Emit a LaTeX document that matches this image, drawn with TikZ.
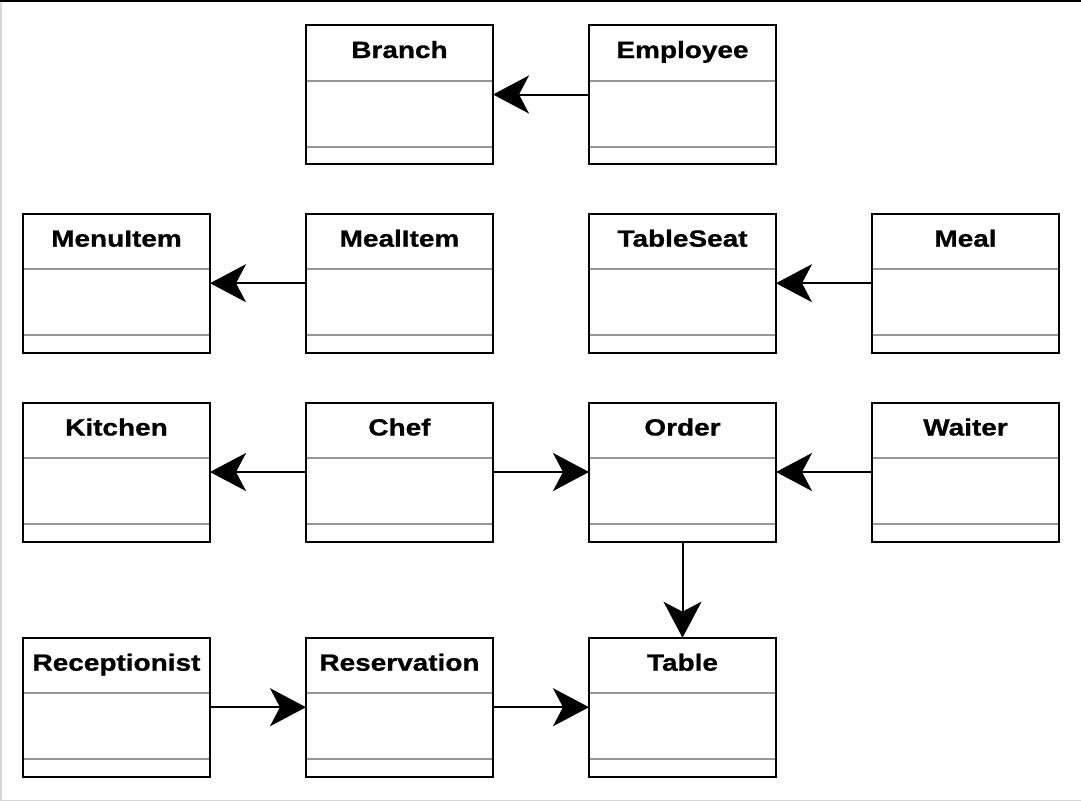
\documentclass[tikz,border=0pt]{standalone}
\usepackage{fontspec}
\setmainfont{Liberation Sans}[BoldFeatures={FakeBold=0.8}]
\usetikzlibrary{arrows.meta}
\definecolor{divgray}{RGB}{150,150,150}
\definecolor{framegray}{RGB}{215,215,215}
\tikzset{
  cls/.style={draw=black, line width=2pt, minimum width=187pt, minimum height=139pt, inner sep=0pt, outer sep=0pt, anchor=north west},
  clstitle/.style={anchor=base, inner sep=0pt, font=\bfseries\fontsize{23.5}{28}\selectfont},
  divider/.style={draw=divgray, line width=2pt},
  assoc/.style={draw=black, line width=2pt, -{Stealth[length=36pt, width=38pt, inset=10pt]}},
}
\newcommand\umlclass[4]{%
  \draw[divider] (#2,#3+56.5) -- (#2+189,#3+56.5);
  \draw[divider] (#2,#3+122.5) -- (#2+189,#3+122.5);
  \node[cls] (#1) at (#2+1,#3+1) {};
  \node[clstitle] (#1-t) at (#2+94.5,#3+34) {\scalebox{1.19}[1]{#4}};
}
\begin{document}
\begin{tikzpicture}[x=1pt, y=-1pt]
\useasboundingbox (0,0) rectangle (1081,801);
\fill[white] (0,0) rectangle (1081,801);
\fill[black] (0,0) rectangle (1081,2);
\fill[framegray] (0,2) rectangle (1.5,801);
\fill[framegray] (0,799.5) rectangle (1081,801);

\umlclass{branch}{305}{24}{Branch}
\umlclass{employee}{588}{24}{Employee}

\umlclass{menuitem}{22}{212.7}{MenuItem}
\umlclass{mealitem}{305}{212.7}{MealItem}
\umlclass{tableseat}{588}{212.7}{TableSeat}
\umlclass{meal}{871}{212.7}{Meal}

\umlclass{kitchen}{22}{401.5}{Kitchen}
\umlclass{chef}{305}{401.5}{Chef}
\umlclass{order}{588}{401.5}{Order}
\umlclass{waiter}{871}{401.5}{Waiter}

\umlclass{receptionist}{22}{636.7}{Receptionist}
\umlclass{reservation}{305}{636.7}{Reservation}
\umlclass{table}{588}{636.7}{Table}

\draw[assoc] (employee.west) -- (branch.east);
\draw[assoc] (mealitem.west) -- (menuitem.east);
\draw[assoc] (meal.west) -- (tableseat.east);
\draw[assoc] (chef.west) -- (kitchen.east);
\draw[assoc] (chef.east) -- (order.west);
\draw[assoc] (waiter.west) -- (order.east);
\draw[assoc] (order.south) -- (table.north);
\draw[assoc] (receptionist.east) -- (reservation.west);
\draw[assoc] (reservation.east) -- (table.west);
\end{tikzpicture}
\end{document}
